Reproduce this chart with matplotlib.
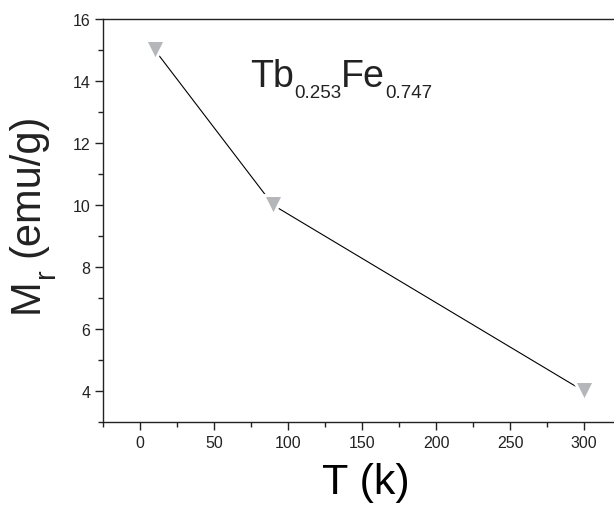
import matplotlib
matplotlib.use("Agg")
import matplotlib.pyplot as plt
from matplotlib.ticker import MultipleLocator

plt.rcParams['font.family'] = ['Liberation Sans', 'DejaVu Sans']

temperature = [10, 90, 300]
remanence = [15.0, 10.0, 4.0]
# sample name pieces: (text, is_subscript)
formula = [('Tb', False), ('0.253', True), ('Fe', False), ('0.747', True)]

fig = plt.figure(figsize=(6.14, 5.06), dpi=100)
ax = fig.add_axes([0.1678, 0.1634, 0.8557, 0.797])

ax.plot(temperature, remanence, color='black', lw=0.8, zorder=2)
ax.plot(temperature, remanence, ls='none', marker='v', ms=14.5,
        mfc='#b5b6ba', mec='white', mew=2.2, zorder=3)

ax.set_xlim(-25, 330)
ax.set_ylim(3, 16)
ax.xaxis.set_major_locator(MultipleLocator(50))
ax.xaxis.set_minor_locator(MultipleLocator(25))
ax.yaxis.set_major_locator(MultipleLocator(2))
ax.yaxis.set_minor_locator(MultipleLocator(1))

ax.tick_params(which='both', direction='out', labelsize=11.5, width=1.0,
               colors='#222222')
ax.tick_params(which='major', length=6, pad=3)
ax.tick_params(which='minor', length=3.5)
for s in ax.spines.values():
    s.set_linewidth(1.0)
    s.set_color('#222222')

ax.set_xlabel('T (k)', fontsize=31, labelpad=9)

# y label written in pieces: the subscript r sits well below the baseline
rot = dict(rotation=90, rotation_mode='anchor', ha='left', va='baseline',
           color='#222222')
m = ax.annotate('M', xy=(38, 193), xycoords='figure pixels', fontsize=30, **rot)
r = ax.annotate('r', xy=(54, 1), xycoords=('figure pixels', m),
                xytext=(0, 0), textcoords='offset pixels', fontsize=21, **rot)
ax.annotate('(emu/g)', xy=(38, 1), xycoords=('figure pixels', r),
            xytext=(0, 12), textcoords='offset pixels', fontsize=30, **rot)

# formula built piece by piece so the subscripts can be smaller and lower
prev = ax.text(74.5, 13.85, formula[0][0], fontsize=27, color='#222222',
               va='baseline')
for txt, sub in formula[1:]:
    prev = ax.annotate(txt, xy=(1, 0), xycoords=prev,
                       xytext=(0, -5.3 if sub else 5.3),
                       textcoords='offset points', va='bottom',
                       fontsize=13.5 if sub else 27, color='#222222')

fig.savefig('out.png', dpi=100)
